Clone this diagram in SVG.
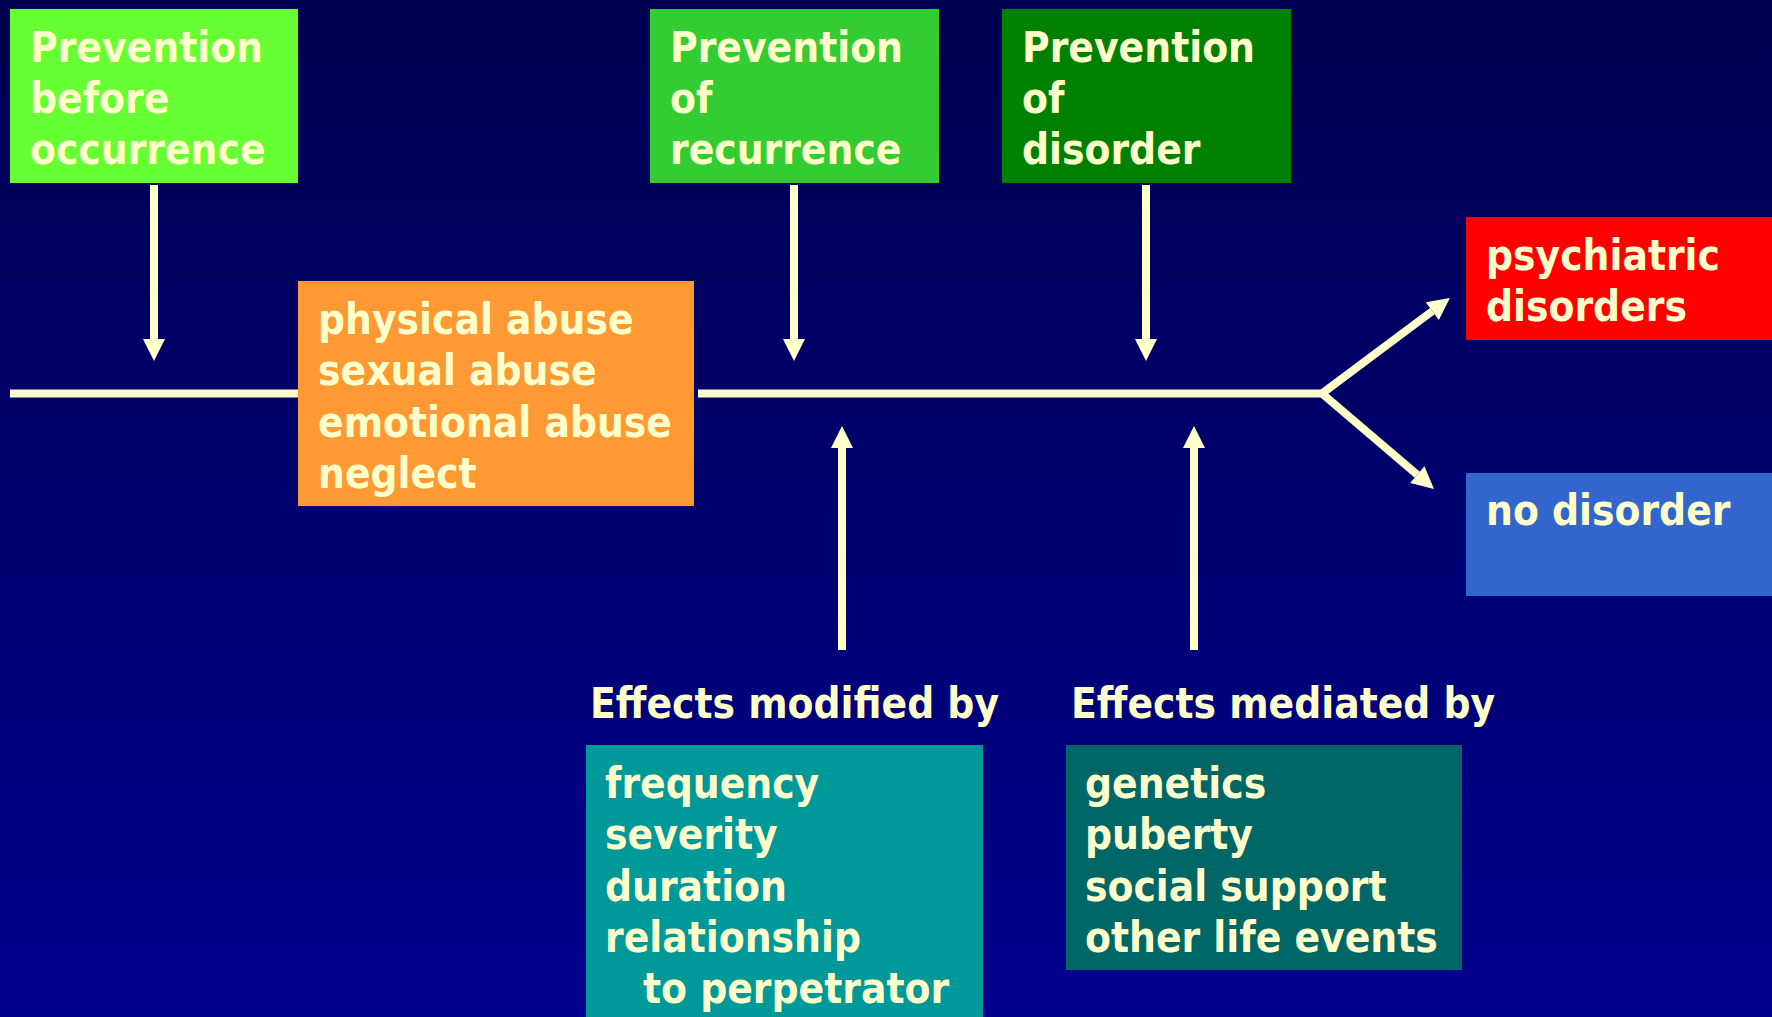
<svg xmlns="http://www.w3.org/2000/svg" width="1772" height="1017" viewBox="0 0 1772 1017">
<defs>
<linearGradient id="bg" x1="0" y1="0" x2="0" y2="1">
<stop offset="0" stop-color="#000050"/>
<stop offset="1" stop-color="#00008e"/>
</linearGradient>
<marker id="ah" markerUnits="userSpaceOnUse" markerWidth="22" markerHeight="22" viewBox="0 -11 22 22" refX="0" refY="0" orient="auto" overflow="visible">
<path d="M0,-11 L22,0 L0,11 z" fill="#FFFFCC"/>
</marker>
</defs>
<style>
text{font-family:"DejaVu Sans","Liberation Sans",sans-serif;font-weight:bold;font-stretch:condensed;font-size:42px;fill:#FFFFCC}
.ln{stroke:#FFFFCC;stroke-width:8;fill:none}
.ar{stroke:#FFFFCC;stroke-width:8;fill:none;marker-end:url(#ah)}
</style>
<rect x="0" y="0" width="1772" height="1017" fill="url(#bg)"/>

<g id="connectors">
<path class="ln" d="M10,393.5 H298"/>
<path class="ln" d="M698,393.5 H1322"/>
<path class="ar" d="M1322,393.5 L1432.3,311.1"/>
<path class="ar" d="M1322,393.5 L1417.3,474.7"/>
<path class="ar" d="M154,185 V339"/>
<path class="ar" d="M794,185 V339"/>
<path class="ar" d="M1146,185 V339"/>
<path class="ar" d="M842,650 V448"/>
<path class="ar" d="M1194,650 V448"/>
</g>

<g id="prevention-before">
<rect x="10" y="9" width="288" height="174" fill="#66FF33"/>
<text x="30" y="62">Prevention</text>
<text x="30" y="113">before</text>
<text x="30" y="164">occurrence</text>
</g>

<g id="prevention-recurrence">
<rect x="650" y="9" width="289" height="174" fill="#33CC33"/>
<text x="670" y="62">Prevention</text>
<text x="670" y="113">of</text>
<text x="670" y="164">recurrence</text>
</g>

<g id="prevention-disorder">
<rect x="1002" y="9" width="289" height="174" fill="#008000"/>
<text x="1022" y="62">Prevention</text>
<text x="1022" y="113">of</text>
<text x="1022" y="164">disorder</text>
</g>

<g id="abuse">
<rect x="298" y="281" width="396" height="225" fill="#FF9933"/>
<text x="318" y="334">physical abuse</text>
<text x="318" y="385">sexual abuse</text>
<text x="318" y="437">emotional abuse</text>
<text x="318" y="488">neglect</text>
</g>

<g id="psychiatric-disorders">
<rect x="1466" y="217" width="306" height="123" fill="#FF0000"/>
<text x="1486" y="270">psychiatric</text>
<text x="1486" y="321">disorders</text>
</g>

<g id="no-disorder">
<rect x="1466" y="473" width="306" height="123" fill="#3366CC"/>
<text x="1486" y="525">no disorder</text>
</g>

<g id="effects-modified">
<text x="590" y="718">Effects modified by</text>
<rect x="586" y="745" width="397" height="272" fill="#009999"/>
<text x="605" y="798">frequency</text>
<text x="605" y="849">severity</text>
<text x="605" y="901">duration</text>
<text x="605" y="952">relationship</text>
<text x="643" y="1003">to perpetrator</text>
</g>

<g id="effects-mediated">
<text x="1071" y="718">Effects mediated by</text>
<rect x="1066" y="745" width="396" height="225" fill="#006666"/>
<text x="1085" y="798">genetics</text>
<text x="1085" y="849">puberty</text>
<text x="1085" y="901">social support</text>
<text x="1085" y="952">other life events</text>
</g>
</svg>
